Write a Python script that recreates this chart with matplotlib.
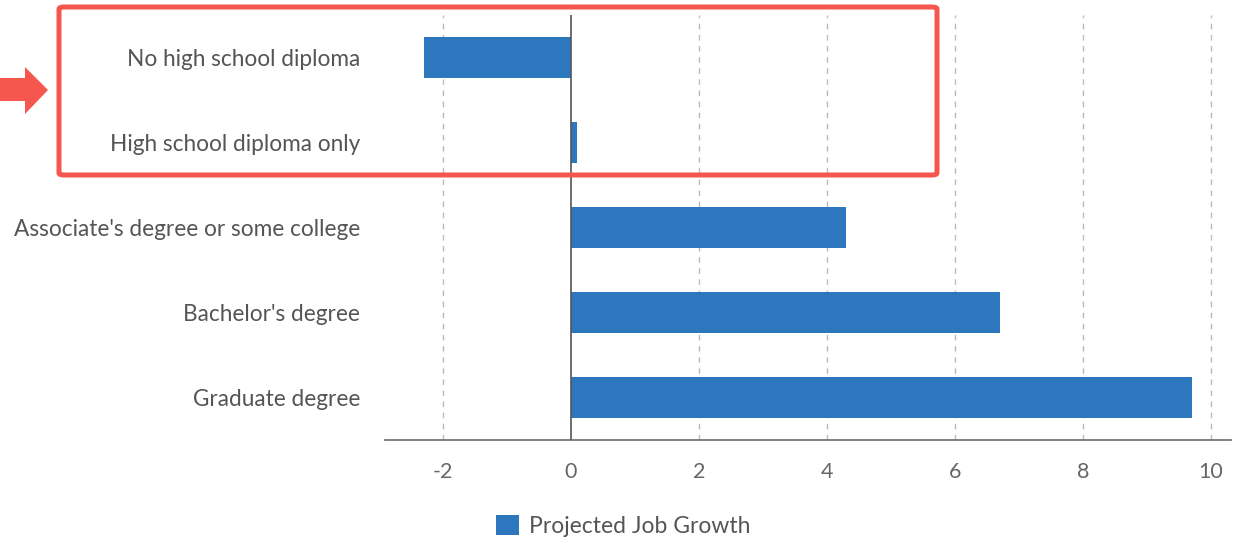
import matplotlib.pyplot as plt
import matplotlib.patches as mpatches

categories = ["No high school diploma", "High school diploma only",
              "Associate's degree or some college", "Bachelor's degree",
              "Graduate degree"]
growth = [-2.3, 0.1, 4.3, 6.7, 9.7]
xticks = [-2, 0, 2, 4, 6, 8, 10]
series_name = "Projected Job Growth"

W, H = 1236, 539
plt.rcParams['font.family'] = ['Lato', 'DejaVu Sans']

fig = plt.figure(figsize=(W / 100, H / 100), dpi=100)
ax = fig.add_axes([385 / W, 1 - 440 / H, (1231 - 385) / W, (440 - 15) / H])

pos = list(range(len(categories)))
ax.barh(pos, growth, height=0.49, color='#2c77bd', label=series_name, zorder=3)
ax.set_ylim(len(categories) - 0.5, -0.5)
ax.set_xlim(-2.906, 10.31)
ax.set_yticks(pos)
ax.set_yticklabels(categories, fontsize=16.3, color='#555555')
ax.set_xticks(xticks)
ax.set_xticklabels([str(t) for t in xticks], fontsize=15.5, color='#666666')
ax.tick_params(axis='y', length=0, pad=18)
ax.tick_params(axis='x', length=0, pad=16)

for s in ['top', 'right', 'left']:
    ax.spines[s].set_visible(False)
ax.spines['bottom'].set_color('#777777')
ax.spines['bottom'].set_linewidth(1.3)

for t in xticks:
    if t != 0:
        ax.axvline(t, color='#bbbbbb', linewidth=1, linestyle=(0, (4, 4)), zorder=1)
ax.axvline(0, color='#555555', linewidth=1.2, zorder=4)

fig.legend(loc='center', bbox_to_anchor=(623 / W, 1 - 526 / H), frameon=False,
           fontsize=16.5, handlelength=1.0, handleheight=1.0, handletextpad=0.45,
           labelcolor='#555555')


def fx(px):
    return px / W


def fy(py):
    return 1 - py / H


box = mpatches.FancyBboxPatch((fx(59), fy(175)), fx(937) - fx(59), fy(7) - fy(175),
                              boxstyle='round,pad=0,rounding_size=0.004',
                              transform=fig.transFigure, fill=False,
                              edgecolor='#f5564d', linewidth=3.6, zorder=10)
fig.patches.append(box)

arrow_pts = [(0, 78), (25, 78), (25, 67), (48, 90), (25, 114), (25, 101), (0, 101)]
arrow = mpatches.Polygon([(fx(x), fy(y)) for x, y in arrow_pts], closed=True,
                         transform=fig.transFigure, facecolor='#f5564d',
                         edgecolor='none', zorder=10)
fig.patches.append(arrow)

fig.savefig('out.png', dpi=100)
